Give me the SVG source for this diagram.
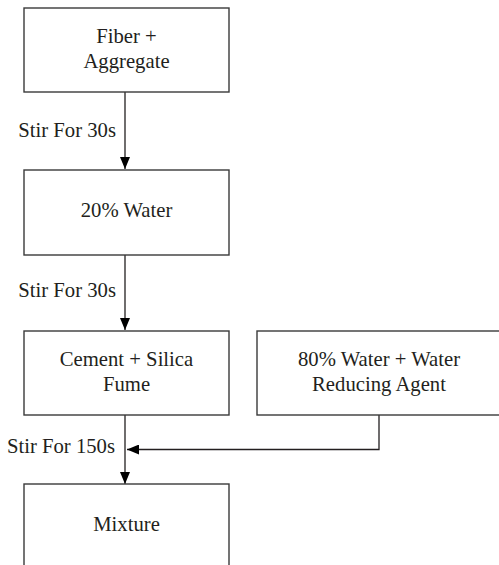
<svg xmlns="http://www.w3.org/2000/svg" width="499" height="565" viewBox="0 0 499 565">
<style>
.box{fill:#fff;stroke:#3a3a3a;stroke-width:1.4}
text{font-family:'Liberation Serif','DejaVu Serif',serif;font-size:20.7px;fill:#231f20}
.m{text-anchor:middle}
.e{text-anchor:end}
.c{stroke:#231f20;stroke-width:1.3;fill:none}
</style>
<defs>
<marker id="ah" viewBox="0 0 12 10" refX="12" refY="5" markerWidth="12" markerHeight="10" markerUnits="userSpaceOnUse" orient="auto">
<path d="M0,0 L12,5 L0,10 Z" fill="#000"/>
</marker>
</defs>
<g id="connectors">
<line class="c" x1="125" y1="92" x2="125" y2="169" marker-end="url(#ah)"/>
<line class="c" x1="125" y1="255" x2="125" y2="330" marker-end="url(#ah)"/>
<line class="c" x1="125" y1="415" x2="125" y2="484" marker-end="url(#ah)"/>
<polyline class="c" points="379,415 379,449.5 127,449.5" marker-end="url(#ah)"/>
<text class="e" x="116" y="137">Stir For 30s</text>
<text class="e" x="116" y="297">Stir For 30s</text>
<text class="e" x="115" y="453">Stir For 150s</text>
</g>
<g id="n1">
<rect class="box" x="24" y="8" width="205" height="84"/>
<text class="m" x="126.5" y="43">Fiber +</text>
<text class="m" x="126.5" y="68">Aggregate</text>
</g>
<g id="n2">
<rect class="box" x="24" y="170" width="205" height="85"/>
<text class="m" x="126.5" y="217">20% Water</text>
</g>
<g id="n3">
<rect class="box" x="24" y="331" width="205" height="84"/>
<text class="m" x="126.5" y="366">Cement + Silica</text>
<text class="m" x="126.5" y="391">Fume</text>
</g>
<g id="n4">
<rect class="box" x="24" y="484" width="205" height="90"/>
<text class="m" x="126.5" y="531">Mixture</text>
</g>
<g id="n5">
<rect class="box" x="257" y="331" width="245" height="84"/>
<text class="m" x="379" y="366">80% Water + Water</text>
<text class="m" x="379" y="391">Reducing Agent</text>
</g>
</svg>
